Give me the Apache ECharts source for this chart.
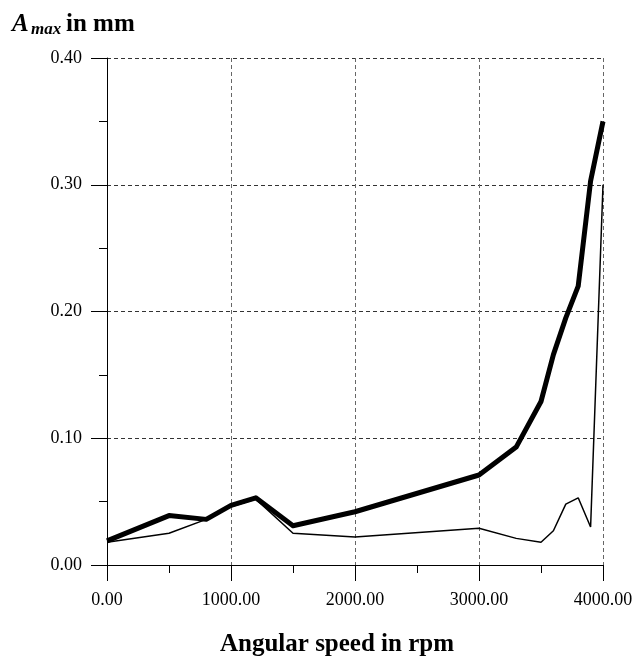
<!DOCTYPE html>
<html>
<head>
<meta charset="utf-8">
<title>Amax vs angular speed</title>
<script src="https://cdn.jsdelivr.net/npm/echarts@6/dist/echarts.min.js"></script>
<style>
    html, body { margin: 0; padding: 0; background: #fff; }
    #main { width: 643px; height: 660px; }
</style>
</head>
<body>
<div id="main"></div>
<script>
// 转速 (rpm)
let rpm = [0, 500, 800, 1000, 1200, 1500, 2000, 3000, 3300, 3500, 3600, 3700, 3800, 3900, 4000];
// 粗线 Amax (mm)
let thickAmax = [0.019, 0.039, 0.036, 0.047, 0.053, 0.031, 0.042, 0.071, 0.093, 0.129, 0.166, 0.195, 0.220, 0.303, 0.350];
// 细线 Amax (mm)
let thinAmax = [0.018, 0.025, 0.036, 0.046, 0.052, 0.025, 0.022, 0.029, 0.021, 0.018, 0.027, 0.048, 0.053, 0.030, 0.300];
// 坐标轴刻度
let xTicks = [0, 1000, 2000, 3000, 4000];
let yTicks = [0, 0.1, 0.2, 0.3, 0.4];

let fontName = '"Liberation Serif", "Times New Roman", serif';

function pairs(xs, ys) {
    let out = [];
    xs.forEach(function (x, i) {
        out.push([x, ys[i]]);
    });
    return out;
}

let myChart = echarts.init(document.getElementById('main'));

let option = {
    backgroundColor: '#fff',
    animation: false,
    grid: {
        left: 107,
        right: 40,
        top: 58,
        bottom: 95
    },
    xAxis: {
        type: 'value',
        min: xTicks[0],
        max: xTicks[xTicks.length - 1],
        interval: 1000,
        axisLine: { lineStyle: { color: '#000', width: 1 } },
        axisTick: { show: true, length: 16, lineStyle: { color: '#000' } },
        minorTick: { show: true, splitNumber: 2, length: 8, lineStyle: { color: '#000' } },
        axisLabel: {
            margin: 26,
            color: '#000',
            fontFamily: fontName,
            fontSize: 18,
            formatter: function (v) { return v.toFixed(2); }
        },
        splitLine: {
            show: true,
            lineStyle: { color: '#666', type: [4, 3], width: 1 }  //虚线网格
        }
    },
    yAxis: {
        type: 'value',
        min: yTicks[0],
        max: yTicks[yTicks.length - 1],
        interval: 0.1,
        axisLine: { show: true, lineStyle: { color: '#000', width: 1 } },
        axisTick: { show: true, length: 16, lineStyle: { color: '#000' } },
        minorTick: { show: true, splitNumber: 2, length: 8, lineStyle: { color: '#000' } },
        axisLabel: {
            margin: 25,
            color: '#000',
            fontFamily: fontName,
            fontSize: 18,
            formatter: function (v) { return v.toFixed(2); }
        },
        splitLine: {
            show: true,
            lineStyle: { color: '#333', type: [4, 3], width: 1 }
        }
    },
    graphic: [
        // y轴标题 A_max in mm
        {
            type: 'text', x: 12, y: 25,
            style: { text: 'A', fontFamily: fontName, fontSize: 25, fontWeight: 'bold', fontStyle: 'italic', fill: '#000', verticalAlign: 'middle' }
        },
        {
            type: 'text', x: 31, y: 30,
            style: { text: 'max', fontFamily: fontName, fontSize: 17, fontWeight: 'bold', fontStyle: 'italic', fill: '#000', verticalAlign: 'middle' }
        },
        {
            type: 'text', x: 66, y: 25,
            style: { text: 'in mm', fontFamily: fontName, fontSize: 25, fontWeight: 'bold', fill: '#000', verticalAlign: 'middle' }
        },
        // x轴标题
        {
            type: 'text', x: 337, y: 645,
            style: { text: 'Angular speed in rpm', fontFamily: fontName, fontSize: 25, fontWeight: 'bold', fill: '#000', align: 'center', verticalAlign: 'middle' }
        }
    ],
    series: [
        {
            name: 'thin',
            type: 'line',
            symbol: 'none',
            lineStyle: { color: '#000', width: 1.5 },
            data: pairs(rpm, thinAmax),
            z: 3
        },
        {
            name: 'thick',
            type: 'line',
            symbol: 'none',
            lineStyle: { color: '#000', width: 5, join: 'round' },
            data: pairs(rpm, thickAmax),
            z: 4
        }
    ]
};

myChart.setOption(option);
</script>
</body>
</html>
